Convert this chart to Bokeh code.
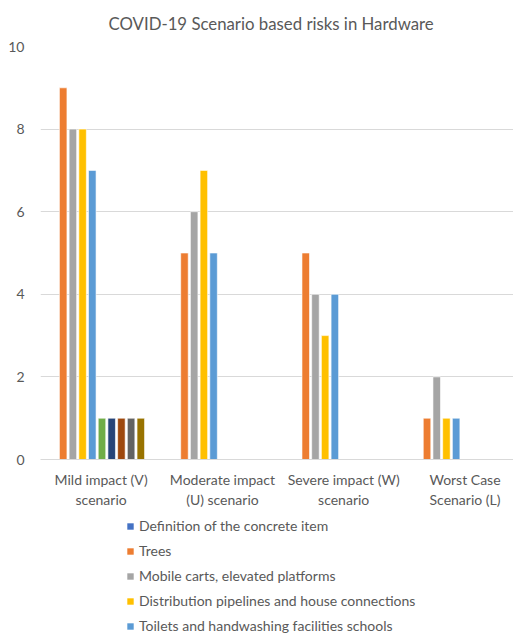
from bokeh.plotting import figure
from bokeh.layouts import column
from bokeh.models import Range1d, Legend, LegendItem, FixedTicker, ColumnDataSource
from bokeh.embed import file_html
from bokeh.resources import INLINE

title = "COVID-19 Scenario based risks in Hardware"
categories = ["Mild impact (V)\nscenario", "Moderate impact\n(U) scenario",
              "Severe impact (W)\nscenario", "Worst Case\nScenario (L)"]

series_names = [
    "Definition of the concrete item",
    "Trees",
    "Mobile carts, elevated platforms",
    "Distribution pipelines and house connections",
    "Toilets and handwashing facilities schools",
    "Series 6", "Series 7", "Series 8", "Series 9", "Series 10",
]
definition = [0, 0, 0, 0]
trees = [9, 5, 5, 1]
mobile_carts = [8, 6, 4, 2]
pipelines = [8, 7, 3, 1]
toilets = [7, 5, 4, 1]
series_6 = [1, 0, 0, 0]
series_7 = [1, 0, 0, 0]
series_8 = [1, 0, 0, 0]
series_9 = [1, 0, 0, 0]
series_10 = [1, 0, 0, 0]
series_values = [definition, trees, mobile_carts, pipelines, toilets,
                 series_6, series_7, series_8, series_9, series_10]
colors = ["#4472C4", "#ED7D31", "#A5A5A5", "#FFC000", "#5B9BD5",
          "#70AD47", "#264478", "#9E480E", "#636363", "#997300"]
legend_count = 5

FONT = "Lato"
TXT = "#595959"

p = figure(width=513, height=510, output_backend="svg", toolbar_location=None,
           x_range=Range1d(0, 3.9), y_range=Range1d(0, 10),
           min_border_left=40, min_border_right=0, min_border_top=46,
           min_border_bottom=51)
p.outline_line_color = None
p.background_fill_color = "white"
p.border_fill_color = "white"

p.title.text = title
p.title.align = "left"
p.title.offset = 68
p.title.vertical_align = "top"
p.title.text_font = FONT
p.title.text_font_size = "16.8px"
p.title.text_font_style = "normal"
p.title.text_color = TXT
p.title.standoff = 22

p.xgrid.grid_line_color = None
p.ygrid.grid_line_color = "#D9D9D9"
p.ygrid.ticker = FixedTicker(ticks=[0, 2, 4, 6, 8, 10])

p.yaxis.ticker = FixedTicker(ticks=[0, 2, 4, 6, 8, 10])
p.yaxis.axis_line_color = None
p.yaxis.major_tick_line_color = None
p.yaxis.minor_tick_line_color = None
p.yaxis.major_label_text_font = FONT
p.yaxis.major_label_text_font_size = "14px"
p.yaxis.major_label_text_color = TXT
p.yaxis.major_label_standoff = 10

centers = [i + 0.5 for i in range(len(categories))]
p.xaxis.ticker = FixedTicker(ticks=centers)
p.xaxis.major_label_overrides = {c: lab for c, lab in zip(centers, categories)}
p.xaxis.axis_line_color = "#D9D9D9"
p.xaxis.major_tick_line_color = None
p.xaxis.minor_tick_line_color = None
p.xaxis.major_label_text_font = FONT
p.xaxis.major_label_text_font_size = "14px"
p.xaxis.major_label_text_color = TXT
p.xaxis.major_label_standoff = 5

stride = 0.08
bar_w = 0.062
shift = -0.033
n = len(series_names)
for j, (name, vals, col) in enumerate(zip(series_names, series_values, colors)):
    xs = [c + (j - (n - 1) / 2) * stride + shift for c in centers]
    src = ColumnDataSource(dict(x=xs, top=vals))
    p.vbar(x="x", top="top", width=bar_w, bottom=0, source=src,
           fill_color=col, line_color="white", line_width=0.6)

# legend panel below the chart
lf = figure(width=513, height=124, output_backend="svg", toolbar_location=None,
            x_range=Range1d(0, 1), y_range=Range1d(0, 1),
            min_border_left=0, min_border_right=0, min_border_top=0, min_border_bottom=0)
lf.axis.visible = False
lf.grid.visible = False
lf.outline_line_color = None
lf.border_fill_color = "white"
lf.background_fill_color = "white"
items = []
for j in range(legend_count):
    r = lf.vbar(x=[0.5], top=[0], bottom=[0], width=0.0, fill_color=colors[j],
                line_color=None, fill_alpha=1.0)
    items.append(LegendItem(label=series_names[j], renderers=[r]))
legend = Legend(items=items, location=(86, 0), orientation="vertical",
                border_line_alpha=0, background_fill_alpha=0, padding=0, margin=0,
                spacing=8, label_height=17, glyph_height=8, glyph_width=8,
                label_standoff=5, label_text_font=FONT, label_text_font_size="14px",
                label_text_color=TXT)
lf.add_layout(legend)

layout = column(p, lf, spacing=0)
open("out.html", "w").write(file_html(layout, INLINE))
